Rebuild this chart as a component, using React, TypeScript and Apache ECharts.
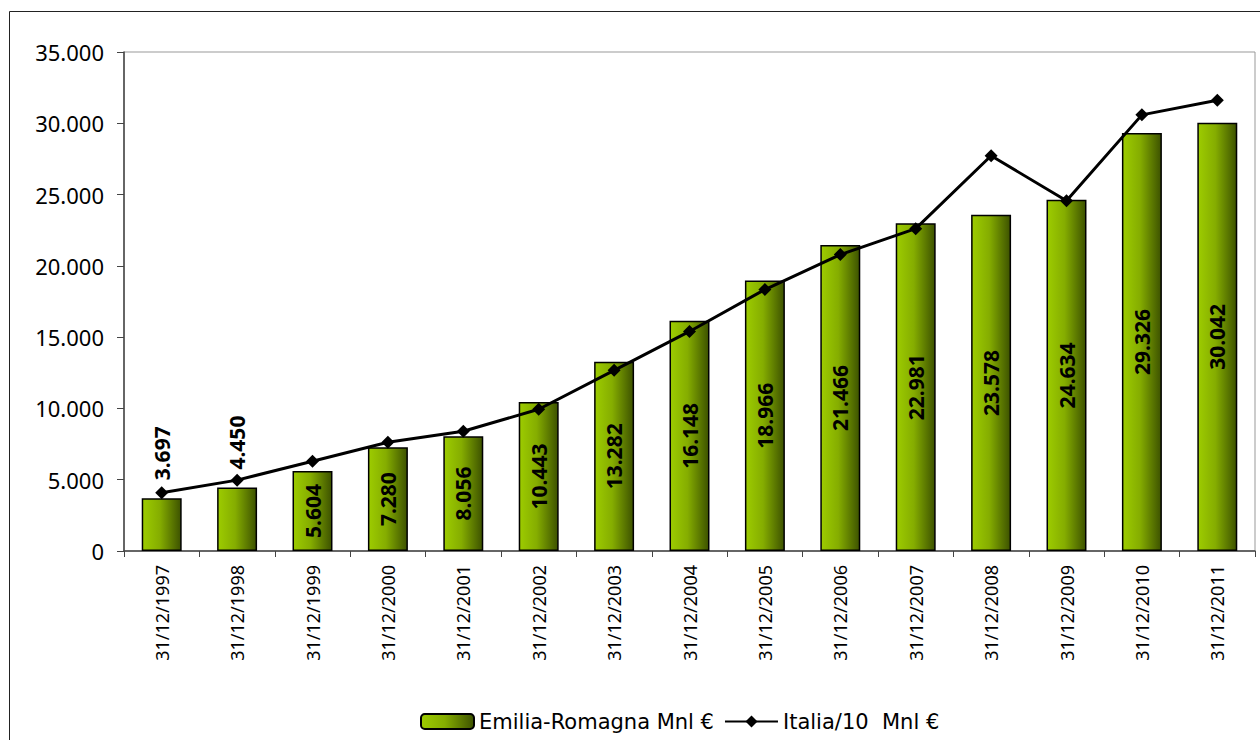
import React, { useEffect, useRef } from "react";
import * as echarts from "echarts";

const categories = [
  "31/12/1997", "31/12/1998", "31/12/1999", "31/12/2000", "31/12/2001",
  "31/12/2002", "31/12/2003", "31/12/2004", "31/12/2005", "31/12/2006",
  "31/12/2007", "31/12/2008", "31/12/2009", "31/12/2010", "31/12/2011",
];
const emiliaRomagna = [3697, 4450, 5604, 7280, 8056, 10443, 13282, 16148, 18966, 21466, 22981, 23578, 24634, 29326, 30042];
const italia10 = [4080, 4970, 6300, 7630, 8400, 9940, 12670, 15400, 18340, 20790, 22610, 27720, 24570, 30590, 31620];
const barName = "Emilia-Romagna Mnl €";
const lineName = "Italia/10  Mnl €";
const outsideLabelIdx = [0, 1];

const FONT = "'Noto Sans', 'DejaVu Sans', sans-serif";
const LEGEND_FONT = "'DejaVu Sans', 'Noto Sans', sans-serif";

function fmt(v: number): string {
  return String(Math.round(v)).replace(/\B(?=(\d{3})+(?!\d))/g, ".");
}

export default function App() {
  const ref = useRef<HTMLDivElement>(null);
  useEffect(() => {
    if (!ref.current) return;
    const chart = echarts.init(ref.current, null, { renderer: "svg" });
    const grad = new echarts.graphic.LinearGradient(0, 0, 1, 0, [
      { offset: 0, color: "#9dcc00" },
      { offset: 0.45, color: "#85ad00" },
      { offset: 1, color: "#3d5200" },
    ]);
    const barData = emiliaRomagna.map((v, i) =>
      outsideLabelIdx.includes(i)
        ? {
            value: v,
            label: {
              position: "top",
              distance: 18,
              align: "left",
              verticalAlign: "middle",
            },
          }
        : { value: v }
    );
    chart.setOption({
      animation: false,
      textStyle: { fontFamily: FONT },
      graphic: [
        {
          type: "rect",
          shape: { x: 9.5, y: 11.5, width: 1300, height: 800 },
          style: { fill: "none", stroke: "#222", lineWidth: 1 },
          silent: true,
        },
      ],
      grid: {
        left: 124,
        right: 5,
        top: 52,
        bottom: 189,
        show: true,
        borderColor: "#999",
        borderWidth: 1,
      },
      legend: {
        top: 711,
        left: 420,
        padding: 0,
        itemGap: 10,
        itemWidth: 53,
        itemHeight: 15,
        textStyle: { fontSize: 21, color: "#000", fontFamily: LEGEND_FONT },
        data: [barName, lineName],
      },
      xAxis: {
        type: "category",
        data: categories,
        axisLine: { lineStyle: { color: "#444", width: 1.5 } },
        axisTick: { show: true, length: 6, lineStyle: { color: "#444" } },
        axisLabel: {
          rotate: 90,
          fontSize: 18,
          color: "#000",
          margin: 14,
          fontFamily: FONT,
        },
      },
      yAxis: {
        type: "value",
        min: 0,
        max: 35000,
        interval: 5000,
        axisLine: { show: true, lineStyle: { color: "#444", width: 1.5 } },
        axisTick: { show: true, length: 7, lineStyle: { color: "#444" } },
        splitLine: { show: false },
        axisLabel: {
          fontSize: 22,
          color: "#000",
          margin: 20,
          fontFamily: FONT,
          formatter: (v: number) => fmt(v),
        },
      },
      series: [
        {
          name: barName,
          type: "bar",
          data: barData,
          barWidth: "53%",
          itemStyle: { color: grad, borderColor: "#000", borderWidth: 1.5 },
          label: {
            show: true,
            position: "inside",
            rotate: 90,
            fontSize: 21,
            fontWeight: "bold",
            color: "#000",
            fontFamily: FONT,
            formatter: (p: any) => fmt(p.value),
          },
          z: 2,
        },
        {
          name: lineName,
          type: "line",
          data: italia10,
          symbol: "diamond",
          symbolSize: 13,
          lineStyle: { color: "#000", width: 3 },
          itemStyle: { color: "#000" },
          z: 3,
        },
      ],
    });
    return () => chart.dispose();
  }, []);
  return (
    <div
      ref={ref}
      style={{ position: "absolute", left: 0, top: 0, width: 1260, height: 740, background: "#fff" }}
    />
  );
}
